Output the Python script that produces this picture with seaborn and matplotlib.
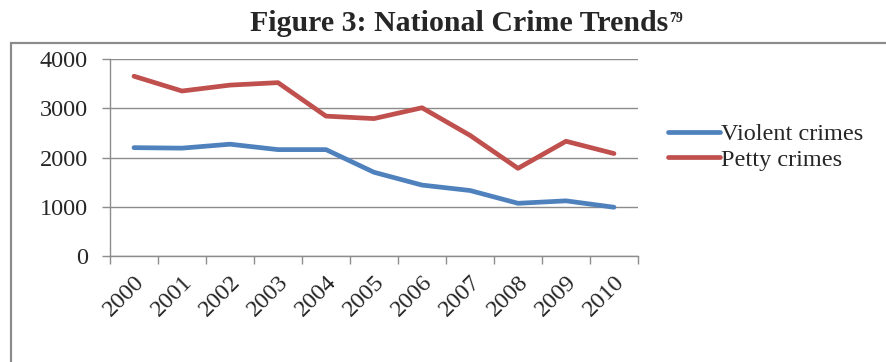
import matplotlib
matplotlib.use("Agg")
import matplotlib.pyplot as plt
import matplotlib.patches as mpatches
from matplotlib.transforms import ScaledTranslation
import numpy as np
import pandas as pd
import seaborn as sns

years = [2000, 2001, 2002, 2003, 2004, 2005, 2006, 2007, 2008, 2009, 2010]
year_labels = [str(y) for y in years]
violent = [2200, 2190, 2270, 2160, 2160, 1700, 1440, 1330, 1070, 1120, 990]
petty = [3650, 3350, 3470, 3520, 2840, 2790, 3010, 2450, 1780, 2330, 2080]
series_names = ["Violent crimes", "Petty crimes"]
colors = ["#4F81BD", "#C0504D"]
title = "Figure 3: National Crime Trends"
footnote = "79"

df = pd.DataFrame({
    "year": years * 2,
    "value": violent + petty,
    "series": [series_names[0]] * len(years) + [series_names[1]] * len(years),
})

sns.set_theme(style="white")
plt.rcParams["font.family"] = ["Liberation Serif", "DejaVu Serif"]

W, H = 886, 362
fig = plt.figure(figsize=(W / 100, H / 100), dpi=100)
ax = fig.add_axes([110 / W, 1 - 256 / H, (638 - 110) / W, (256 - 59) / H])

sns.lineplot(data=df, x="year", y="value", hue="series", palette=colors,
             linewidth=3.4, ax=ax, legend=False, solid_capstyle="round")

gray = "#8c8c8c"
ax.set_xlim(years[0] - 0.5, years[-1] + 0.5)
ax.set_ylim(0, 4000)
ax.set_yticks([0, 1000, 2000, 3000, 4000])
ax.set_yticklabels(["0", "1000", "2000", "3000", "4000"], fontsize=17.5)
ax.set_xticks(years)
ax.set_xticklabels(year_labels, fontsize=17.5, rotation=45, ha="right",
                   rotation_mode="anchor")
shift = ScaledTranslation(-10 / 100, -2 / 100, fig.dpi_scale_trans)
for lab in ax.get_xticklabels():
    lab.set_transform(lab.get_transform() + shift)
ax.set_xticks(np.arange(years[0] - 0.5, years[-1] + 1, 1), minor=True)
ax.tick_params(axis="x", which="major", length=0, pad=11)
ax.tick_params(axis="x", which="minor", length=6, width=1, color=gray,
               direction="out", bottom=True)
ax.tick_params(axis="y", length=6, width=1, color=gray, direction="out",
               left=True, pad=10)
ax.set_xlabel("")
ax.set_ylabel("")
ax.yaxis.grid(True, color=gray, linewidth=1)
ax.set_axisbelow(True)
for s in ["top", "right"]:
    ax.spines[s].set_visible(False)
for s in ["left", "bottom"]:
    ax.spines[s].set_color(gray)
    ax.spines[s].set_linewidth(1)

handles = [plt.Line2D([], [], color=c, linewidth=3.4, solid_capstyle="round")
           for c in colors]
fig.legend(handles, series_names, loc="upper left",
           bbox_to_anchor=(668 / W, 1 - 123 / H), frameon=False, fontsize=17.5,
           borderpad=0, borderaxespad=0, handlelength=2.15, handletextpad=0.05,
           labelspacing=0.15)

# border box
fig.patches.append(mpatches.Rectangle((11 / W, -0.2), 1.2, 1 - 43 / H + 0.2,
                                      transform=fig.transFigure, fill=False,
                                      edgecolor=gray, linewidth=1.6))

t = fig.text(250 / W, 1 - 31 / H, title, fontsize=21.5, fontweight="bold",
             ha="left", va="baseline")
fig.canvas.draw()
bb = t.get_window_extent()
fig.text(bb.x1 / W + 1 / W, 1 - 22 / H, footnote, fontsize=10,
         fontweight="bold", ha="left", va="baseline")

fig.savefig("out.png", dpi=100)
